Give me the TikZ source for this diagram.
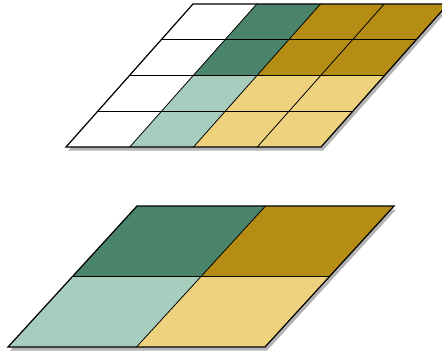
\documentclass[tikz,border=0pt]{standalone}
\usepackage{tikz}
\usepackage{xcolor}
\usetikzlibrary{shadows}

\definecolor{darkgreen}{HTML}{4A856B}
\definecolor{lightgreen}{HTML}{A6CDBD}
\definecolor{darkgold}{HTML}{B58D15}
\definecolor{lightgold}{HTML}{EED27E}

\tikzset{
  plate/.style={fill=white, drop shadow={shadow xshift=1.2pt, shadow yshift=-2pt, opacity=0.6}},
  gridline/.style={black, line width=0.45pt},
  border/.style={black, line width=0.7pt}
}

\begin{document}
\begin{tikzpicture}[x=0.02cm, y=0.02cm]
    \useasboundingbox (0,0) rectangle (442,352);

    % fine 4x4 grid
    \begin{scope}[shift={(66,205)}, xslant=0.888]
        \fill[plate] (0,0) rectangle (255,143);
        \fill[lightgreen] (63.75,0) rectangle (127.5,71.5);
        \fill[darkgreen] (63.75,71.5) rectangle (127.5,143);
        \fill[lightgold] (127.5,0) rectangle (255,71.5);
        \fill[darkgold] (127.5,71.5) rectangle (255,143);
        \foreach \i in {1,2,3} {
            \draw[gridline] (\i*63.75,0) -- (\i*63.75,143);
            \draw[gridline] (0,\i*35.75) -- (255,\i*35.75);
        }
        \draw[border] (0,0) rectangle (255,143);
    \end{scope}

    % coarse 2x2 grid
    \begin{scope}[shift={(8,5)}, xslant=0.915]
        \fill[plate] (0,0) rectangle (257,141);
        \fill[lightgreen] (0,0) rectangle (128.5,70.5);
        \fill[darkgreen] (0,70.5) rectangle (128.5,141);
        \fill[lightgold] (128.5,0) rectangle (257,70.5);
        \fill[darkgold] (128.5,70.5) rectangle (257,141);
        \draw[gridline] (128.5,0) -- (128.5,141);
        \draw[gridline] (0,70.5) -- (257,70.5);
        \draw[border] (0,0) rectangle (257,141);
    \end{scope}
\end{tikzpicture}
\end{document}
